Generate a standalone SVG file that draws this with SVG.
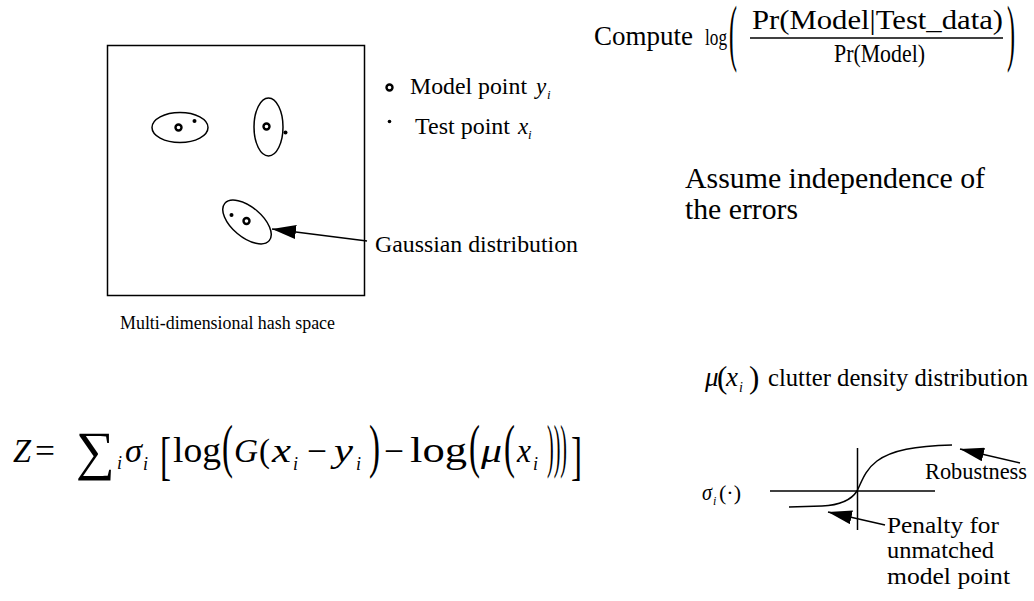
<svg xmlns="http://www.w3.org/2000/svg" width="1034" height="601" viewBox="0 0 1034 601">
  <style>
    text { font-family: "Liberation Serif", "Times New Roman", serif; fill: #000; }
    .it { font-style: italic; }
    .ln { stroke: #000; fill: none; stroke-width: 1.5; }
    .ring { fill: #fff; stroke: #000; stroke-width: 2.4; }
    .dot { fill: #000; }
  </style>
  <defs>
    <marker id="head" viewBox="0 0 24 14" refX="24" refY="7" markerWidth="24" markerHeight="14" markerUnits="userSpaceOnUse" orient="auto">
      <path d="M0,0 L24,7 L0,14 z" fill="#000"/>
    </marker>
  </defs>
  <rect width="1034" height="601" fill="#fff"/>

  <!-- hash space with the three error ellipses -->
  <g id="hash-space">
    <rect class="ln" x="107.5" y="45.5" width="257" height="250"/>
    <ellipse class="ln" cx="180" cy="127.5" rx="28" ry="15"/>
    <ellipse class="ln" cx="268.5" cy="127" rx="14.5" ry="29"/>
    <ellipse class="ln" cx="0" cy="0" rx="29" ry="15" transform="translate(247,222) rotate(40)"/>
    <circle class="ring" cx="178.5" cy="127.5" r="3"/>
    <circle class="ring" cx="266.5" cy="126.5" r="3"/>
    <circle class="ring" cx="246.5" cy="221" r="3"/>
    <circle class="dot" cx="194.5" cy="121" r="2"/>
    <circle class="dot" cx="285.5" cy="132.5" r="2"/>
    <circle class="dot" cx="231.5" cy="215" r="2"/>
    <text x="120" y="329" font-size="18" textLength="215" lengthAdjust="spacingAndGlyphs">Multi-dimensional hash space</text>
  </g>

  <g id="legend">
    <circle class="ring" cx="389.5" cy="87.5" r="3"/>
    <text x="410" y="94" font-size="23.5" textLength="117" lengthAdjust="spacingAndGlyphs">Model point</text>
    <text class="it" x="536" y="94" font-size="23">y</text>
    <text class="it" x="547" y="99" font-size="13">i</text>
    <circle class="dot" cx="389.5" cy="121.5" r="1.8"/>
    <text x="415" y="134" font-size="23.5" textLength="95" lengthAdjust="spacingAndGlyphs">Test point</text>
    <text class="it" x="518" y="134" font-size="23">x</text>
    <text class="it" x="528" y="139" font-size="13">i</text>
  </g>

  <g id="gaussian-label">
    <text x="375" y="252" font-size="23.5" textLength="203" lengthAdjust="spacingAndGlyphs">Gaussian distribution</text>
  </g>

  <!-- log ratio of posterior to prior -->
  <g id="compute">
    <text x="594" y="45" font-size="27" textLength="99" lengthAdjust="spacingAndGlyphs">Compute</text>
    <text x="705" y="45" font-size="23" textLength="22" lengthAdjust="spacingAndGlyphs">log</text>
    <text transform="translate(729,57) scale(1,3.1)" font-size="24">(</text>
    <text x="752" y="29" font-size="28" textLength="251" lengthAdjust="spacingAndGlyphs">Pr(Model|Test_data)</text>
    <line x1="750" y1="38" x2="1003" y2="38" stroke="#000" stroke-width="1.3"/>
    <text x="834" y="62" font-size="25" textLength="91" lengthAdjust="spacingAndGlyphs">Pr(Model)</text>
    <text transform="translate(1007,57) scale(1,3.1)" font-size="24">)</text>
  </g>

  <g id="assume">
    <text x="685" y="188" font-size="29.5" textLength="300" lengthAdjust="spacingAndGlyphs">Assume independence of</text>
    <text x="685" y="219" font-size="29.5" textLength="113" lengthAdjust="spacingAndGlyphs">the errors</text>
  </g>

  <!-- robust match score -->
  <g id="objective">
    <text class="it" x="13" y="462" font-size="33" textLength="18" lengthAdjust="spacingAndGlyphs">Z</text>
    <text x="35" y="462" font-size="33" textLength="20" lengthAdjust="spacingAndGlyphs">=</text>
    <text x="76" y="469" font-size="54" textLength="39" lengthAdjust="spacingAndGlyphs">∑</text>
    <text class="it" x="117" y="469" font-size="18">i</text>
    <text class="it" x="125" y="462" font-size="33" textLength="17" lengthAdjust="spacingAndGlyphs">σ</text>
    <text class="it" x="143" y="470" font-size="18">i</text>
    <text transform="translate(160,474) scale(1,1.6)" font-size="33">[</text>
    <text x="173" y="462" font-size="35" textLength="48" lengthAdjust="spacingAndGlyphs">log</text>
    <text transform="translate(222,466) scale(1,1.8)" font-size="33">(</text>
    <text class="it" x="234" y="462" font-size="34" textLength="24" lengthAdjust="spacingAndGlyphs">G</text>
    <text x="259" y="462" font-size="33">(</text>
    <text class="it" x="272" y="462" font-size="34" textLength="19" lengthAdjust="spacingAndGlyphs">x</text>
    <text class="it" x="293" y="470" font-size="18">i</text>
    <text x="307" y="462" font-size="33" textLength="20" lengthAdjust="spacingAndGlyphs">−</text>
    <text class="it" x="334" y="462" font-size="34" textLength="19" lengthAdjust="spacingAndGlyphs">y</text>
    <text class="it" x="356" y="470" font-size="18">i</text>
    <text transform="translate(369,466) scale(1,1.8)" font-size="33">)</text>
    <text x="384" y="462" font-size="33" textLength="20" lengthAdjust="spacingAndGlyphs">−</text>
    <text x="410" y="462" font-size="35" textLength="57" lengthAdjust="spacingAndGlyphs">log</text>
    <text transform="translate(469,466) scale(1,1.8)" font-size="33">(</text>
    <text class="it" x="481" y="462" font-size="34" textLength="21" lengthAdjust="spacingAndGlyphs">μ</text>
    <text transform="translate(504,466) scale(1,1.8)" font-size="33">(</text>
    <text class="it" x="517" y="462" font-size="34" textLength="14" lengthAdjust="spacingAndGlyphs">x</text>
    <text class="it" x="533" y="470" font-size="18">i</text>
    <text transform="translate(547,466) scale(1,1.8)" font-size="33" textLength="20" lengthAdjust="spacingAndGlyphs">)))</text>
    <text transform="translate(571,474) scale(1,1.6)" font-size="33">]</text>
  </g>

  <g id="clutter">
    <text y="386"><tspan class="it" x="705" font-size="27">μ</tspan><tspan x="717" y="388" font-size="31">(</tspan><tspan class="it" x="726" y="386" font-size="27">x</tspan><tspan class="it" x="739" y="392" font-size="14">i</tspan><tspan x="749" y="388" font-size="31">)</tspan></text>
    <text x="768" y="386" font-size="25" textLength="260" lengthAdjust="spacingAndGlyphs">clutter density distribution</text>
  </g>

  <!-- sigmoid weighting function -->
  <g id="sigmoid">
    <text class="it" x="702" y="500" font-size="24" textLength="10" lengthAdjust="spacingAndGlyphs">σ</text>
    <text class="it" x="713" y="505" font-size="12">i</text>
    <text x="719" y="500" font-size="22" textLength="22" lengthAdjust="spacingAndGlyphs">(·)</text>
    <line class="ln" x1="770" y1="491" x2="935" y2="491" stroke-width="1.2"/>
    <line class="ln" x1="857.5" y1="448" x2="857.5" y2="530" stroke-width="1.2"/>
    <path class="ln" d="M789,507 L822,506 C842,505 852,499 857,491 C862,481 865,470 877,461 C892,450 915,446 952,445" stroke-width="1.8"/>
    <text x="925" y="479" font-size="23" textLength="102" lengthAdjust="spacingAndGlyphs">Robustness</text>
    <text x="887" y="533" font-size="24" textLength="112" lengthAdjust="spacingAndGlyphs">Penalty for</text>
    <text x="887" y="558" font-size="24" textLength="107" lengthAdjust="spacingAndGlyphs">unmatched</text>
    <text x="887" y="584" font-size="24" textLength="123" lengthAdjust="spacingAndGlyphs">model point</text>
  </g>

  <g id="connectors">
    <line class="ln" x1="367" y1="241" x2="272" y2="229" marker-end="url(#head)"/>
    <line class="ln" x1="1020" y1="463" x2="960" y2="449" marker-end="url(#head)"/>
    <line class="ln" x1="885" y1="525" x2="828" y2="512" marker-end="url(#head)"/>
  </g>
</svg>
